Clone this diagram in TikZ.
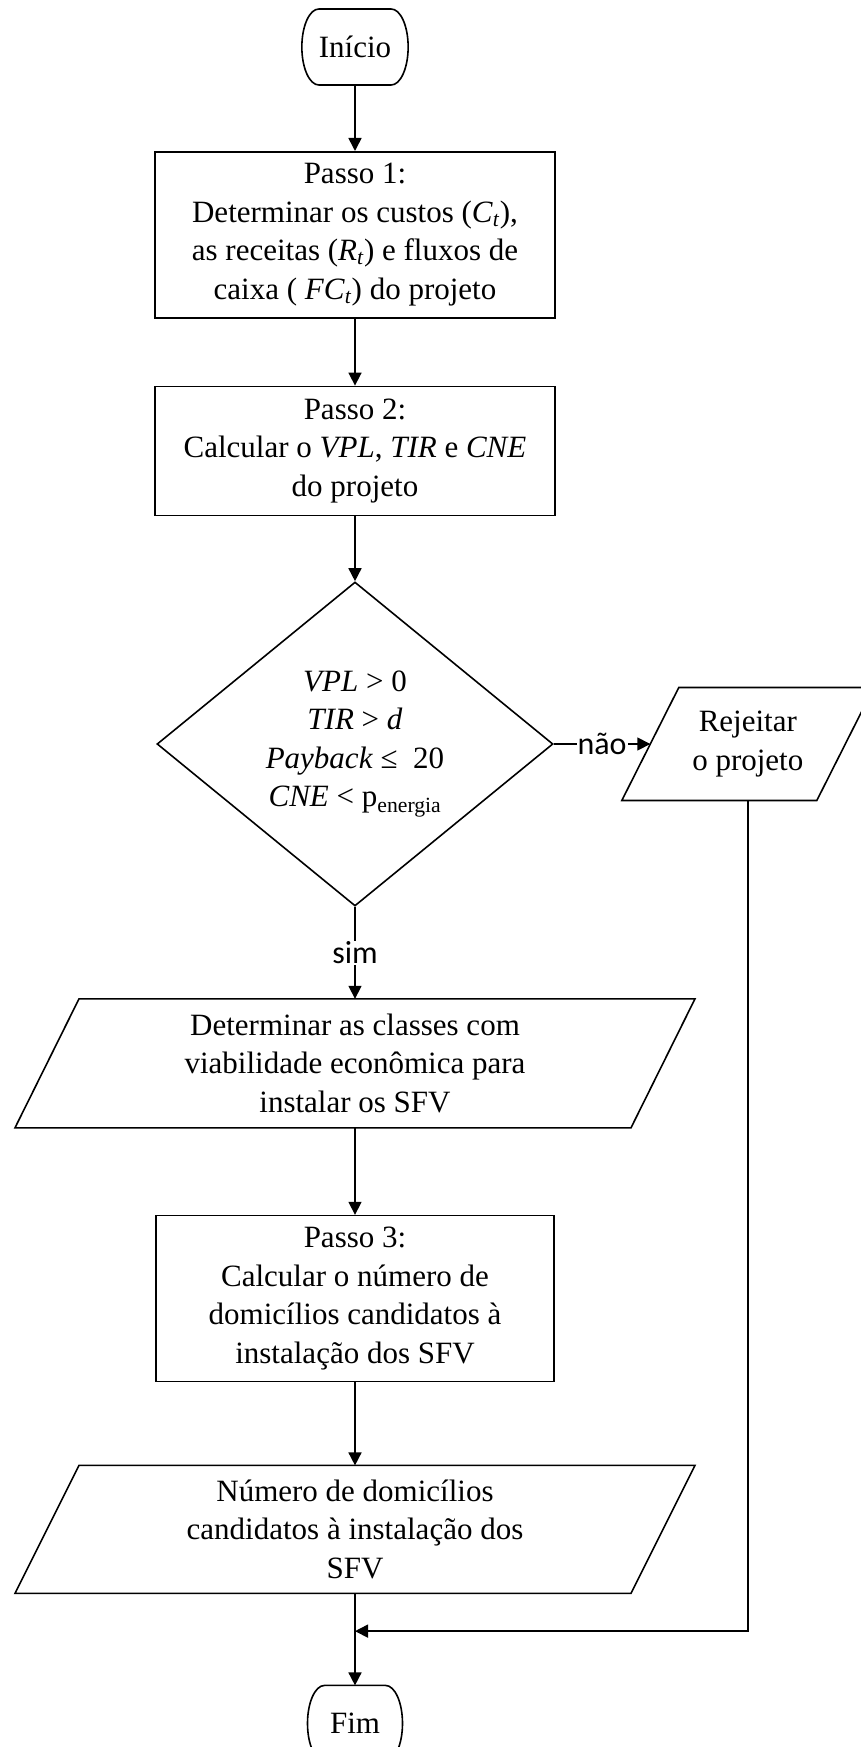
\documentclass[tikz,border=0pt]{standalone}
\usepackage{fontspec}
\setmainfont{Liberation Serif}
\newfontfamily\rotulofont{Carlito}
\usetikzlibrary{positioning,shapes.geometric,arrows.meta,calc}
\begin{document}
\begin{tikzpicture}
      [x=1pt,y=1pt,line width=1.6pt,
      every node/.style={font=\fontsize{31}{38.5}\selectfont,align=center},
      terminal/.style={rectangle,minimum width=61pt,minimum height=76pt,inner sep=0pt,outer sep=0pt},
      processo/.style={draw,rectangle,minimum width=400pt,inner sep=0pt},
      dados/.style={rectangle,inner sep=0pt,outer sep=0pt},
      decisao/.style={draw,diamond,aspect=1.222,minimum width=396pt,minimum height=324pt,inner sep=0pt},
      rotulo/.style={fill=white,inner sep=1pt,font=\rotulofont\fontsize{32}{38}\selectfont},
      seta/.style={-{Triangle[length=13pt,width=13pt]}}]
      \useasboundingbox (0,0) rectangle (861,-1747);
      \node[terminal] (inicio) at (355,-47) {Início};
      \node[processo,minimum height=166pt,below=66pt of inicio] (passo1)
        {Passo 1:\\ Determinar os custos (\textit{C}\textsubscript{\textit{t}}),\\
         as receitas (\textit{R}\textsubscript{\textit{t}}) e fluxos de\\
         caixa ( \textit{FC}\textsubscript{\textit{t}}) do projeto};
      \node[processo,minimum height=129pt,below=67pt of passo1] (passo2)
        {Passo 2:\\ Calcular o \textit{VPL}, \textit{TIR} e \textit{CNE}\\ do projeto};
      \node[decisao,below=65pt of passo2] (teste)
        {\textit{VPL} > 0\\ \textit{TIR} > \textit{d}\\ \textit{Payback} ≤\ \ 20\\
         \textit{CNE} < p\textsubscript{energia}};
      \node[dados,minimum width=195pt,minimum height=113pt] (rejeitar)
        at ([xshift=194pt]teste.east) {Rejeitar\\ o projeto};
      \node[dados,minimum width=616pt,minimum height=129pt,below=92pt of teste] (classes)
        {Determinar as classes com\\ viabilidade econômica para\\ instalar os SFV};
      \node[processo,minimum width=398pt,minimum height=166pt,below=87pt of classes] (passo3)
        {Passo 3:\\ Calcular o número de\\ domicílios candidatos à\\ instalação dos SFV};
      \node[dados,minimum width=616pt,minimum height=128pt,below=83pt of passo3] (numero)
        {Número de domicílios\\ candidatos à instalação dos\\ SFV};
      \node[terminal,below=92pt of numero] (fim) {Fim};
      \foreach \n in {inicio,fim}
        \draw (\n.north west) -- (\n.north east)
          arc[start angle=90,end angle=-90,x radius=17pt,y radius=38pt]
          -- (\n.south west)
          arc[start angle=270,end angle=90,x radius=17pt,y radius=38pt] -- cycle;
      \foreach \n/\d in {rejeitar/28.5,classes/32,numero/32}
        \draw ([xshift=\d pt]\n.north west) -- ([xshift=\d pt]\n.north east)
          -- ([xshift=-\d pt]\n.south east) -- ([xshift=-\d pt]\n.south west) -- cycle;
      \coordinate (juncao) at ($(numero.south)!0.41!(fim.north)$);
      \draw[seta] (inicio) -- (passo1);
      \draw[seta] (passo1) -- (passo2);
      \draw[seta] (passo2) -- (teste);
      \draw[seta] (teste.south) -- node[rotulo] {sim} (classes.north);
      \draw[seta] (teste.east) -- node[rotulo] {não} (rejeitar.west);
      \draw[seta] (classes.south) -- (passo3.north);
      \draw[seta] (passo3.south) -- (numero.north);
      \draw[seta] (numero.south) -- (fim.north);
      \draw[seta] (rejeitar.south) |- (juncao);
    \end{tikzpicture}
\end{document}
